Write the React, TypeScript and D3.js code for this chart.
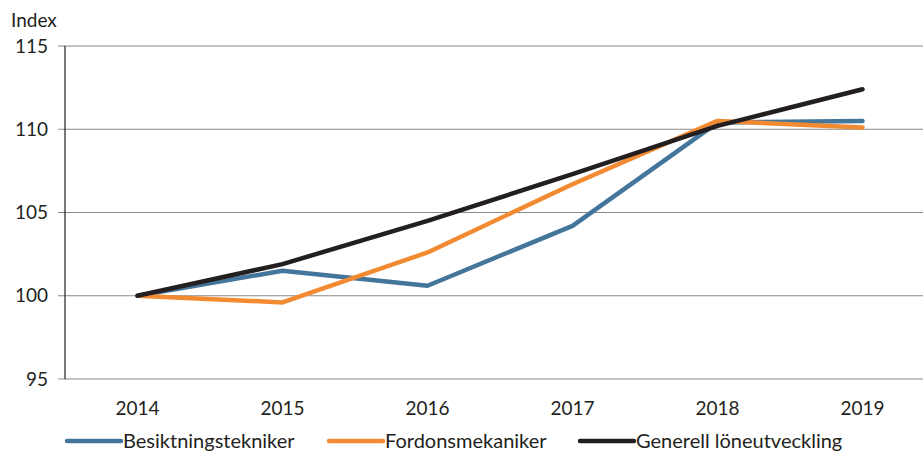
import * as d3 from "d3";
import { useEffect, useRef } from "react";

const years = ["2014", "2015", "2016", "2017", "2018", "2019"];
const besiktning = [100, 101.5, 100.6, 104.2, 110.4, 110.5];
const fordon = [100, 99.6, 102.6, 106.7, 110.5, 110.1];
const generell = [100, 101.9, 104.5, 107.3, 110.2, 112.4];
const yTicks = [95, 100, 105, 110, 115];

const series = [
  { name: "Besiktningstekniker", values: besiktning, color: "#44759a" },
  { name: "Fordonsmekaniker", values: fordon, color: "#f28a32" },
  { name: "Generell löneutveckling", values: generell, color: "#231f20" },
];

export default function App() {
  const ref = useRef<SVGSVGElement>(null);

  useEffect(() => {
    const width = 923;
    const height = 452;
    const font = "Lato, 'Open Sans', sans-serif";

    const svg = d3.select(ref.current);
    svg.selectAll("*").remove();
    svg.attr("width", width).attr("height", height);

    const x = d3.scaleBand().domain(years).range([65, 935]);
    const y = d3.scaleLinear().domain([95, 115]).range([379, 46]);
    const cx = (d: string) => x(d)! + x.bandwidth() / 2;

    // gridlines + ticks
    svg.append("g")
      .selectAll("line")
      .data(yTicks)
      .join("line")
      .attr("x1", 58)
      .attr("x2", width)
      .attr("y1", d => y(d))
      .attr("y2", d => y(d))
      .attr("stroke", "#8a8a8a")
      .attr("stroke-width", 1.2);

    svg.append("line")
      .attr("x1", 65).attr("x2", 65)
      .attr("y1", y(115)).attr("y2", y(95))
      .attr("stroke", "#231f20")
      .attr("stroke-width", 1.2);

    svg.append("g")
      .selectAll("text")
      .data(yTicks)
      .join("text")
      .attr("x", 48)
      .attr("y", d => y(d))
      .attr("dy", "0.35em")
      .attr("text-anchor", "end")
      .attr("font-family", font)
      .attr("font-size", 19)
      .attr("fill", "#231f20")
      .text(d => d);

    svg.append("text")
      .attr("x", 11).attr("y", 27)
      .attr("font-family", font)
      .attr("font-size", 19)
      .attr("fill", "#231f20")
      .text("Index");

    svg.append("g")
      .selectAll("text")
      .data(years)
      .join("text")
      .attr("x", d => cx(d))
      .attr("y", 415)
      .attr("text-anchor", "middle")
      .attr("font-family", font)
      .attr("font-size", 19)
      .attr("fill", "#231f20")
      .text(d => d);

    const line = d3.line<number>()
      .x((_, i) => cx(years[i]))
      .y(d => y(d));

    svg.append("g")
      .selectAll("path")
      .data(series)
      .join("path")
      .attr("d", d => line(d.values))
      .attr("fill", "none")
      .attr("stroke", d => d.color)
      .attr("stroke-width", 4.5)
      .attr("stroke-linecap", "round")
      .attr("stroke-linejoin", "round");

    // legend
    const legendX = [65, 327, 578];
    const lg = svg.append("g")
      .selectAll("g")
      .data(series)
      .join("g")
      .attr("transform", (_, i) => `translate(${legendX[i]},441)`);
    lg.append("line")
      .attr("x1", 2).attr("x2", 56)
      .attr("stroke", d => d.color)
      .attr("stroke-width", 4.5)
      .attr("stroke-linecap", "round");
    lg.append("text")
      .attr("x", 58)
      .attr("dy", "0.35em")
      .attr("font-family", font)
      .attr("font-size", 20)
      .attr("fill", "#231f20")
      .text(d => d.name);
  }, []);

  return <svg ref={ref} style={{ position: "absolute", left: 0, top: 0 }} />;
}
